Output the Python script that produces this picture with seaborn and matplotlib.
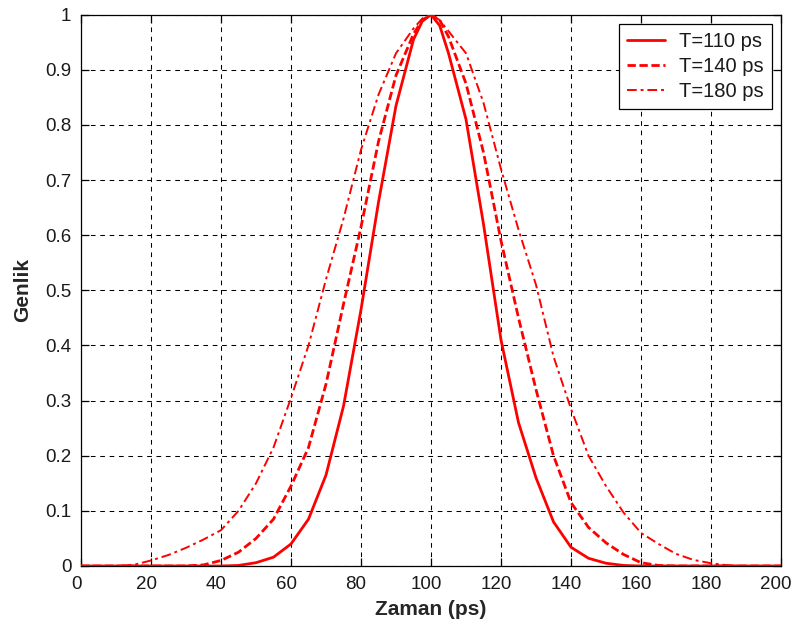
import matplotlib
matplotlib.use("Agg")
import matplotlib.pyplot as plt
import matplotlib.transforms as mtransforms
import seaborn as sns
import pandas as pd

# Pulse amplitude versus time for three pulse widths
time_110 = [0, 40, 45, 50, 55, 60, 65, 70, 75, 80, 85, 90, 95, 97.5, 100,
            102.5, 105, 110, 115, 120, 125, 130, 135, 140, 145, 150, 155, 160, 200]
amp_110 = [0.0, 0.0, 0.001, 0.006, 0.016, 0.04, 0.085, 0.165, 0.29, 0.465, 0.66, 0.835, 0.955, 0.988, 1.0,
           0.98, 0.93, 0.81, 0.62, 0.41, 0.26, 0.16, 0.08, 0.034, 0.014, 0.005, 0.001, 0.0, 0.0]

time_140 = [0, 30, 35, 40, 45, 50, 55, 60, 65, 70, 75, 80, 85, 90, 95, 97.5, 100,
            102.5, 105, 110, 115, 120, 125, 130, 135, 140, 145, 150, 155, 160, 165, 170, 200]
amp_140 = [0.0, 0.0, 0.002, 0.01, 0.025, 0.05, 0.085, 0.145, 0.215, 0.33, 0.475, 0.615, 0.77, 0.89, 0.965, 0.99, 1.0,
           0.99, 0.96, 0.875, 0.75, 0.59, 0.45, 0.32, 0.2, 0.115, 0.07, 0.042, 0.021, 0.006, 0.001, 0.0, 0.0]

time_180 = [0, 10, 15, 20, 25, 30, 35, 40, 45, 50, 55, 60, 65, 70, 75, 80, 85, 90, 95, 97.5, 100,
            102.5, 105, 110, 115, 120, 125, 130, 135, 140, 145, 150, 155, 160, 165, 170, 175, 180, 185, 190, 200]
amp_180 = [0.0, 0.0, 0.002, 0.01, 0.02, 0.033, 0.048, 0.065, 0.1, 0.15, 0.215, 0.305, 0.4, 0.52, 0.63, 0.755, 0.855, 0.93, 0.975, 0.993, 1.0,
           0.99, 0.97, 0.93, 0.84, 0.72, 0.61, 0.51, 0.38, 0.285, 0.2, 0.145, 0.097, 0.06, 0.04, 0.022, 0.011, 0.005, 0.001, 0.0, 0.0]

labels = ["T=110 ps", "T=140 ps", "T=180 ps"]
x_ticks = [0, 20, 40, 60, 80, 100, 120, 140, 160, 180, 200]
y_ticks = [0, 0.1, 0.2, 0.3, 0.4, 0.5, 0.6, 0.7, 0.8, 0.9, 1]
y_tick_labels = ["0", "0.1", "0.2", "0.3", "0.4", "0.5", "0.6", "0.7", "0.8", "0.9", "1"]

sns.set_theme(style="white")
plt.rcParams["font.family"] = ["Liberation Sans", "DejaVu Sans"]

fig = plt.figure(figsize=(7.95, 6.27), dpi=100)
ax = fig.add_axes([0.1019, 0.0973, 0.8805, 0.8793])

series = [
    (time_110, amp_110, labels[0], "-", 2.0),
    (time_140, amp_140, labels[1], (0, (3.0, 1.3)), 2.0),
    (time_180, amp_180, labels[2], (0, (5.0, 2.0, 1.5, 2.0)), 1.4),
]
for t, a, lab, ls, lw in series:
    df = pd.DataFrame({"Zaman (ps)": t, "Genlik": a})
    sns.lineplot(data=df, x="Zaman (ps)", y="Genlik", ax=ax, color="#ff0000",
                 linestyle=ls, linewidth=lw, label=lab, zorder=3)

ax.set_xlim(0, 200)
ax.set_ylim(0, 1)
ax.set_xticks(x_ticks)
ax.set_xticklabels([str(v) for v in x_ticks])
ax.set_yticks(y_ticks)
ax.set_yticklabels(y_tick_labels)

ax.grid(True, color="black", linestyle=(0, (4.5, 4.5)), linewidth=0.75, zorder=0)
ax.set_axisbelow(True)
for s in ax.spines.values():
    s.set_visible(True)
    s.set_color("black")
    s.set_linewidth(0.9)

ax.tick_params(axis="both", which="major", direction="in", length=6, width=0.9,
               color="black", top=True, right=True, bottom=True, left=True,
               labelsize=13.5, labelcolor="#1a1a1a", pad=7)

# nudge the x tick labels slightly to the left
shift = mtransforms.ScaledTranslation(-5 / 100, 0, fig.dpi_scale_trans)
for lbl in ax.get_xticklabels():
    lbl.set_transform(lbl.get_transform() + shift)

ax.set_xlabel("Zaman (ps)", fontsize=15, fontweight="bold", labelpad=5)
ax.set_ylabel("Genlik", fontsize=15, fontweight="bold", labelpad=9)

leg = ax.legend(loc="upper right", fontsize=14.5, frameon=True, fancybox=False,
                edgecolor="black", facecolor="white", framealpha=1.0,
                borderaxespad=0.45, handlelength=1.9, handletextpad=0.7,
                labelspacing=0.3, borderpad=0.4)
leg.get_frame().set_linewidth(0.9)
for t in leg.get_texts():
    t.set_color("#1a1a1a")

fig.savefig("out.png", dpi=100, facecolor="white")
